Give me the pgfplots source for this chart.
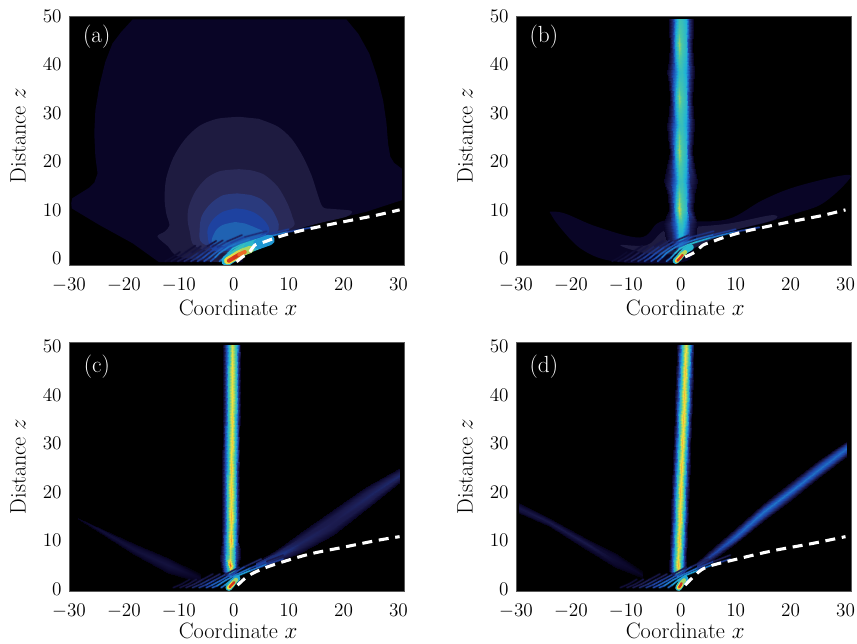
\documentclass[border=0pt]{standalone}
\usepackage{pgfplots}
\pgfplotsset{compat=1.18}
\newcommand\fs{\fontsize{15}{18}\selectfont}
\newcommand\fl{\fontsize{16.7}{20}\selectfont}
\newcommand\fp{\fontsize{17.5}{21}\selectfont}
\definecolor{ca}{RGB}{9,5,38}
\definecolor{cb}{RGB}{30,27,64}
\definecolor{cc}{RGB}{42,42,88}
\definecolor{cd}{RGB}{42,58,125}
\definecolor{ce}{RGB}{30,66,160}
\definecolor{cf}{RGB}{32,98,178}
\pgfplotsset{
 colormap={beam}{rgb255(0)=(0,0,0); rgb255(3)=(9,5,38); rgb255(10)=(28,28,80); rgb255(20)=(30,70,170); rgb255(30)=(31,122,205); rgb255(38)=(31,178,215); rgb255(50)=(79,200,160); rgb255(60)=(181,215,90); rgb255(70)=(245,224,64); rgb255(80)=(245,160,48); rgb255(90)=(232,74,32); rgb255(100)=(176,16,16)},
 panel/.style={scale only axis,width=251.25pt,height=186.75pt,anchor=south west,
  xmin=-30,xmax=31,enlargelimits=false,
  axis background/.style={fill=black},
  axis line style={black!65,line width=.6pt},
  xtick={-30,-20,-10,0,10,20,30},ytick={0,10,20,30,40,50},
  major tick length=0pt,
  point meta min=0,point meta max=1,colormap name=beam,
  tick label style={font=\fs},label style={font=\fl},
  xlabel={Coordinate $x$},ylabel={Distance $z$},
  xticklabel style={yshift=-6.5pt},
  yticklabel style={xshift=-2pt},
  xlabel style={at={(axis description cs:0.505,-0.173)},anchor=center},
  ylabel style={at={(axis description cs:-0.152,0.52)},anchor=center,rotate=0},
 },
 beam/.style={surf,shader=interp,mesh/cols=#1,point meta=explicit,forget plot},
 flat/.style={fill=#1,draw=none,forget plot},
 caust/.style={white,line width=2.3pt,dash pattern=on 7.5pt off 5pt,smooth,tension=.6,no markers,forget plot},
 arc/.style={mesh,line width=#1,line cap=round,point meta=explicit,no markers,forget plot},
}
% a fringe: same typed points, wide and dim under narrow and bright
\newcommand\fr[1]{%
 \addplot[arc=2.2pt,opacity=.2] coordinates {#1};
 \addplot[arc=1.1pt] coordinates {#1};}
\newcommand\frlow{%
 \fr{(-2.6,-.6)[.2] (-1.8,.1)[.3] (-1,1.1)[.36] (-.2,2)[.4] (1.3,2.8)[.41] (2.9,3.4)[.4] (5.3,4.2)[.33] (9.6,5.4)[.25] (14.3,6.4)[.12]}
 \fr{(-4.2,-.6)[.17] (-3.4,.2)[.27] (-2.6,1.1)[.3] (-1,2.3)[.3] (.4,3)[.28] (3,4)[.27] (6,4.9)[.22] (10,6)[.12]}
 \fr{(-5.4,-.6)[.15] (-4.5,.1)[.24] (-3.5,1)[.25] (-2,2.2)[.23] (-.5,3.2)[.2] (2,4.4)[.18] (6,5.6)[.12]}
 \fr{(-6.6,-.6)[.13] (-5.6,.1)[.21] (-4.5,1.1)[.21] (-3,2.3)[.18] (-1.2,3.5)[.14] (1.5,4.8)[.1]}
 \fr{(-7.8,-.6)[.11] (-6.7,.1)[.18] (-5.5,1.1)[.17] (-3.9,2.4)[.13] (-2,3.7)[.09]}
 \fr{(-9,-.6)[.09] (-7.8,.1)[.14] (-6.5,1.1)[.13] (-4.8,2.5)[.09] (-3.2,3.6)[.07]}
 \fr{(-10.2,-.6)[.07] (-9,.1)[.1] (-7.6,1.2)[.09] (-6,2.5)[.06]}
 \fr{(-11.4,-.6)[.05] (-10.1,.2)[.07] (-8.7,1.3)[.06] (-7,2.6)[.05]}
 \fr{(-12.5,-.6)[.04] (-11.2,.2)[.05] (-9.8,1.3)[.04]}
}
\newcommand\frhigh{%
 \fr{(-2.3,.3)[.2] (-1.6,.8)[.32] (-.5,1.8)[.38] (1,2.9)[.38] (3,3.8)[.32] (6,5.1)[.24] (9,6.2)[.1]}
 \fr{(-3.9,.3)[.17] (-3,.7)[.28] (-1.5,1.8)[.31] (.5,3)[.29] (3,4.3)[.24] (6,5.7)[.13] (9,7)[.06]}
 \fr{(-5,.3)[.15] (-4,.8)[.24] (-2.5,1.7)[.24] (-.5,3)[.21] (2,4.6)[.16] (5,6.2)[.08]}
 \fr{(-6.3,.3)[.12] (-5,.9)[.2] (-3.5,1.8)[.18] (-1.5,3)[.13] (1,4.5)[.08]}
 \fr{(-7.5,.3)[.1] (-6,1)[.15] (-4.5,1.9)[.13] (-2.5,3.1)[.08]}
 \fr{(-8.7,.3)[.08] (-7.2,1)[.11] (-5.6,2)[.09] (-3.8,3.1)[.06]}
 \fr{(-9.8,.3)[.06] (-8.3,1)[.08] (-6.8,2)[.06]}
 \fr{(-11,.3)[.05] (-9.5,1)[.06] (-8,2)[.04]}
}
\begin{document}
\begin{tikzpicture}
\path[use as bounding box] (0,0) rectangle (642.75pt,482.25pt);
%%%%%%%%%%%%%%%%%%%% (a)
\begin{axis}[panel,at={(51.75pt,283.5pt)},ymin=-1.37,ymax=50]
\addplot[flat=ca] coordinates {(-18.4,49.3)(-20.5,46.7)(-22.1,44.3)(-23.4,40.5)(-24.5,35.4)(-25.2,30.5)(-25.4,25.8)(-25.2,21)(-24.8,17.5)(-25.4,15.6)(-26.3,14.6)(-29.4,12.4)(-29.6,11.4)(-29.5,10.3)(-24.5,6.9)(-18.4,3.1)(-13.6,-.8)(1.6,-.8)(1.6,.3)(2.9,2.1)(7.1,4.5)(15,7.2)(24.1,9.6)(30.6,12)(30.6,18.5)(29.2,19.7)(28.5,21)(28.1,23.7)(27.8,28)(27.2,32.6)(26.1,37.5)(24.7,42.2)(22.7,46.3)(20.5,49.3)} -- cycle;
\addplot[flat=cb,smooth,tension=.5] coordinates {(1,29.2)(-3,28.8)(-6.3,27.3)(-9,24.4)(-11,20.8)(-12.3,16.5)(-12.6,12.5)(-12.3,9.3)(-11.7,6.8)(-12.6,5.5)(-13.9,4.5)(-12,2.5)(-9.9,.3)(-2,-.8)(1.6,.3)(7.1,4.5)(15,7.1)(20.5,8.6)(21.4,9.8)(18,10.2)(16.2,10.6)(15.2,13.5)(14.2,17)(12.6,21)(10.5,24.7)(8,27.2)(4.5,28.8)} -- cycle;
\addplot[flat=cc,smooth,tension=.5] coordinates {(1,18.4)(-2.5,18)(-5,16.5)(-7,13.8)(-8.2,10.6)(-8.4,8)(-8,5.5)(-6.9,2.4)(0,1)(6,4)(10.8,6.5)(10.7,8.5)(9.7,11.5)(8,14.8)(5.5,17.3)(3,18.2)} -- cycle;
\addplot[flat=cd,smooth,tension=.5] coordinates {(.7,13.4)(-2,13)(-4.2,11.3)(-5.8,8.8)(-6.2,6)(-5.7,3.1)(0,1.5)(5,3.5)(7.7,5.2)(8.2,7)(7,10)(5,12.2)(3,13.1)} -- cycle;
\addplot[flat=ce,smooth,tension=.5] coordinates {(.4,10.3)(-2,9.6)(-3.8,8)(-4.8,5.6)(-3.8,1.7)(1,2)(5,3.8)(6.5,5.8)(5.6,7.8)(3.8,9.4)(2,10.1)} -- cycle;
\addplot[flat=cf,smooth,tension=.5] coordinates {(.3,7.5)(-2,6.9)(-3.4,5.5)(-3.8,3)(1,2.5)(5.3,5.2)(4,6.3)(2,7.2)} -- cycle;
\frlow
\addplot[arc=8pt] coordinates {(-1.3,-.5)[.36] (-.3,.25)[.4] (.6,.95)[.44] (1.5,1.55)[.46] (2.8,2.25)[.44] (4.5,3)[.38] (6.5,3.8)[.3]};
\addplot[arc=5.5pt] coordinates {(-1.1,-.5)[.68] (-.1,.15)[.68] (.8,.8)[.66] (1.8,1.35)[.62] (3,1.85)[.56]};
\addplot[arc=3pt] coordinates {(-.9,-.5)[.9] (.2,.25)[.95] (1,.8)[.92] (2,1.3)[.8]};
\addplot[caust] coordinates {(.5,-.7)(1.6,.3)(2.9,1.3)(3.8,2.7)(5.6,3.4)(7.8,4.3)(11.1,5.4)(14.2,6.2)(18,7.1)(22.9,8.2)(26,8.9)(30.2,10)};
\node[white,font=\fp] at (rel axis cs:.083,.915) {(a)};
\end{axis}
%%%%%%%%%%%%%%%%%%%% (b)
\begin{axis}[panel,at={(387pt,283.5pt)},ymin=-1.37,ymax=50]
\addplot[flat=ca,smooth,tension=.6] coordinates {(-23.9,9.6)(-21.2,9.3)(-15.2,6.5)(-7.4,4.3)(-4.3,7.2)(-1.9,7.9)(2.3,7.6)(8.9,8.2)(14.9,12)(21,14.8)(30,17.2)(30.3,15.8)(25.8,11.3)(21,9.3)(15,7.2)(8.9,5.5)(2.9,2.4)(.5,-.7)(-11.6,-.7)(-18.2,2)(-23,7.9)} -- cycle;
\addplot[flat=cb,smooth,tension=.6] coordinates {(2.3,6.5)(8.9,7.2)(16.5,8.9)(16.8,7.9)(8.9,5.5)(2.9,2.4)(0,1)(-6,1)(-11,2.7)(-6.2,2.7)(-3.7,5.2)(-1.9,6.5)} -- cycle;
\addplot[beam=8] table[meta=m,row sep=\\] {x y m\\
-1.2 1.8 .03\\ -.9 1.8 .05\\ -.6 1.8 .1\\ -.3 1.8 .18\\ .1 1.8 .15\\ .4 1.8 .1\\ .7 1.8 .05\\ 1 1.8 .03\\
-2.6 4 .03\\ -1.7 4 .09\\ -1.1 4 .18\\ -.4 4 .36\\ .3 4 .36\\ .9 4 .24\\ 1.6 4 .1\\ 2.6 4 .03\\
-3.2 7 .03\\ -1.9 7 .11\\ -1.1 7 .25\\ -.4 7 .44\\ .3 7 .44\\ .9 7 .33\\ 1.7 7 .12\\ 3 7 .03\\
-2.2 10 .03\\ -1.5 10 .18\\ -1 10 .35\\ -.4 10 .62\\ .3 10 .5\\ .9 10 .42\\ 1.4 10 .2\\ 2.2 10 .03\\
-2.4 13 .03\\ -1.6 13 .16\\ -1 13 .32\\ -.4 13 .54\\ .3 13 .47\\ .9 13 .39\\ 1.5 13 .17\\ 2.4 13 .03\\
-3 16 .03\\ -1.9 16 .11\\ -1.1 16 .26\\ -.4 16 .44\\ .3 16 .44\\ .9 16 .35\\ 1.7 16 .12\\ 3 16 .03\\
-2.5 19 .03\\ -1.6 19 .15\\ -1 19 .31\\ -.4 19 .5\\ .3 19 .46\\ .9 19 .38\\ 1.5 19 .16\\ 2.5 19 .03\\
-2 22 .03\\ -1.5 22 .18\\ -1 22 .35\\ -.4 22 .58\\ .3 22 .48\\ .9 22 .41\\ 1.4 22 .2\\ 2.1 22 .03\\
-2.3 25 .03\\ -1.6 25 .16\\ -1 25 .32\\ -.4 25 .53\\ .3 25 .46\\ .9 25 .39\\ 1.5 25 .17\\ 2.3 25 .03\\
-2.5 27.5 .03\\ -1.7 27.5 .13\\ -1.1 27.5 .27\\ -.4 27.5 .44\\ .3 27.5 .44\\ .9 27.5 .36\\ 1.6 27.5 .14\\ 2.5 27.5 .03\\
-2.2 30 .03\\ -1.5 30 .16\\ -1 30 .31\\ -.4 30 .48\\ .3 30 .45\\ .9 30 .39\\ 1.5 30 .17\\ 2.2 30 .03\\
-2 33 .03\\ -1.5 33 .18\\ -1 33 .34\\ -.4 33 .56\\ .3 33 .48\\ .9 33 .41\\ 1.4 33 .2\\ 2 33 .03\\
-2.2 36 .03\\ -1.6 36 .16\\ -1 36 .31\\ -.4 36 .48\\ .3 36 .45\\ .9 36 .39\\ 1.5 36 .17\\ 2.2 36 .03\\
-2.5 38.5 .03\\ -1.7 38.5 .13\\ -1.1 38.5 .27\\ -.4 38.5 .43\\ .3 38.5 .43\\ .9 38.5 .36\\ 1.6 38.5 .14\\ 2.5 38.5 .03\\
-2.2 41 .03\\ -1.5 41 .16\\ -1 41 .31\\ -.4 41 .49\\ .3 41 .45\\ .9 41 .39\\ 1.5 41 .17\\ 2.2 41 .03\\
-2 44 .03\\ -1.5 44 .18\\ -1 44 .35\\ -.4 44 .57\\ .3 44 .48\\ .9 44 .41\\ 1.4 44 .2\\ 2.1 44 .03\\
-2.2 47 .03\\ -1.5 47 .17\\ -1 47 .33\\ -.4 47 .5\\ .3 47 .46\\ .9 47 .4\\ 1.5 47 .17\\ 2.2 47 .03\\
-2.1 49.3 .03\\ -1.5 49.3 .16\\ -1 49.3 .3\\ -.4 49.3 .46\\ .3 49.3 .44\\ .9 49.3 .38\\ 1.5 49.3 .16\\ 2.2 49.3 .03\\
};
\frlow
\addplot[arc=4.8pt] coordinates {(-.9,-.5)[.38] (-.3,.15)[.42] (.2,.9)[.46] (.8,1.6)[.44] (1.8,2.3)[.36]};
\addplot[arc=3pt] coordinates {(-.7,-.5)[.7] (-.2,.15)[.72] (.3,.8)[.66] (.8,1.3)[.55]};
\addplot[arc=1.7pt] coordinates {(-.6,-.5)[.92] (-.1,.1)[.97] (.35,.7)[.9]};
\addplot[caust] coordinates {(.8,.3)(2.6,1.3)(4,2.7)(5.9,3.5)(7.8,4.3)(11.1,5.4)(14.2,6.2)(18,7.1)(22.9,8.2)(26,8.9)(30,10)};
\node[white,font=\fp] at (rel axis cs:.083,.915) {(b)};
\end{axis}
%%%%%%%%%%%%%%%%%%%% (c)
\begin{axis}[panel,at={(51.75pt,39pt)},ymin=-.4,ymax=50.9,
 xlabel style={at={(axis description cs:0.505,-0.16)}},ylabel style={at={(axis description cs:-0.152,0.5)}}]
\addplot[beam=5] table[meta=m,row sep=\\] {x y m\\
4 4.2 .03\\ 4 4.6 .14\\ 4 4.9 .2\\ 4 5.3 .14\\ 4 5.6 .03\\
8 5.7 .03\\ 8 6.3 .12\\ 8 6.9 .17\\ 8 7.6 .12\\ 8 8.2 .03\\
12 7.4 .03\\ 12 8.4 .09\\ 12 9.5 .12\\ 12 10.6 .09\\ 12 11.6 .03\\
18 11.2 .03\\ 18 12.5 .09\\ 18 13.8 .1\\ 18 15 .09\\ 18 16.3 .03\\
24 16.5 .03\\ 24 17.6 .09\\ 24 18.8 .12\\ 24 19.9 .09\\ 24 21 .03\\
30.2 22 .03\\ 30.2 22.8 .1\\ 30.2 23.5 .13\\ 30.2 24.2 .1\\ 30.2 24.9 .03\\
};
\addplot[beam=5] table[meta=m,row sep=\\] {x y m\\
-28.3 14.5 .02\\ -28.3 14.55 .03\\ -28.3 14.6 .03\\ -28.3 14.65 .03\\ -28.3 14.7 .02\\
-24 11.4 .02\\ -24 11.7 .05\\ -24 11.9 .06\\ -24 12.1 .05\\ -24 12.4 .02\\
-18 7 .02\\ -18 7.6 .05\\ -18 8.1 .065\\ -18 8.7 .05\\ -18 9.2 .02\\
-12 3.4 .02\\ -12 4.2 .05\\ -12 4.9 .07\\ -12 5.7 .05\\ -12 6.4 .02\\
-6 1.2 .01\\ -6 1.7 .02\\ -6 2.2 .03\\ -6 2.7 .02\\ -6 3.2 .01\\
};
\addplot[beam=7] table[meta=m,row sep=\\] {x y m\\
-1.5 2.6 .03\\ -1.2 2.6 .06\\ -1 2.6 .12\\ -.7 2.6 .3\\ -.3 2.6 .12\\ 0 2.6 .06\\ .3 2.6 .03\\
-2.15 3.8 .03\\ -1.7 3.8 .18\\ -1.25 3.8 .34\\ -.6 3.8 .6\\ .05 3.8 .34\\ .45 3.8 .16\\ .8 3.8 .03\\
-2.25 5 .03\\ -1.75 5 .2\\ -1.3 5 .44\\ -.6 5 .88\\ .05 5 .44\\ .5 5 .18\\ .8 5 .03\\
-2.5 6.5 .03\\ -1.85 6.5 .18\\ -1.35 6.5 .4\\ -.6 6.5 .62\\ .05 6.5 .42\\ .5 6.5 .18\\ 1.1 6.5 .03\\
-2.4 8 .03\\ -1.75 8 .19\\ -1.3 8 .41\\ -.6 8 .62\\ .05 8 .42\\ .5 8 .18\\ 1.15 8 .03\\
-2.2 10 .03\\ -1.7 10 .2\\ -1.25 10 .42\\ -.55 10 .8\\ .1 10 .44\\ .55 10 .18\\ .85 10 .03\\
-2.18 12.5 .03\\ -1.68 12.5 .2\\ -1.23 12.5 .42\\ -.53 12.5 .7\\ .12 12.5 .44\\ .57 12.5 .18\\ .87 12.5 .03\\
-2.16 15 .03\\ -1.66 15 .2\\ -1.21 15 .42\\ -.51 15 .78\\ .14 15 .44\\ .59 15 .18\\ .89 15 .03\\
-2.14 17.5 .03\\ -1.64 17.5 .2\\ -1.19 17.5 .42\\ -.49 17.5 .7\\ .16 17.5 .44\\ .61 17.5 .18\\ .91 17.5 .03\\
-2.12 20 .03\\ -1.62 20 .2\\ -1.17 20 .42\\ -.47 20 .76\\ .18 20 .44\\ .63 20 .18\\ .93 20 .03\\
-2.1 22.5 .03\\ -1.6 22.5 .2\\ -1.15 22.5 .42\\ -.45 22.5 .7\\ .2 22.5 .44\\ .65 22.5 .18\\ .95 22.5 .03\\
-2.08 25 .03\\ -1.58 25 .2\\ -1.13 25 .42\\ -.43 25 .76\\ .22 25 .44\\ .67 25 .18\\ .97 25 .03\\
-2.06 27.5 .03\\ -1.56 27.5 .2\\ -1.11 27.5 .42\\ -.41 27.5 .69\\ .24 27.5 .44\\ .69 27.5 .18\\ .99 27.5 .03\\
-2.04 30 .03\\ -1.54 30 .2\\ -1.09 30 .42\\ -.39 30 .74\\ .26 30 .44\\ .71 30 .18\\ 1.01 30 .03\\
-2.02 32.5 .03\\ -1.52 32.5 .2\\ -1.07 32.5 .42\\ -.37 32.5 .69\\ .28 32.5 .44\\ .73 32.5 .18\\ 1.03 32.5 .03\\
-2 35 .03\\ -1.5 35 .2\\ -1.05 35 .42\\ -.35 35 .74\\ .3 35 .44\\ .75 35 .18\\ 1.05 35 .03\\
-1.98 37.5 .03\\ -1.48 37.5 .2\\ -1.03 37.5 .42\\ -.33 37.5 .68\\ .32 37.5 .44\\ .77 37.5 .18\\ 1.07 37.5 .03\\
-1.96 40 .03\\ -1.46 40 .2\\ -1.01 40 .42\\ -.31 40 .72\\ .34 40 .44\\ .79 40 .18\\ 1.09 40 .03\\
-1.94 42.5 .03\\ -1.44 42.5 .2\\ -.99 42.5 .42\\ -.29 42.5 .68\\ .36 42.5 .44\\ .81 42.5 .18\\ 1.11 42.5 .03\\
-1.92 45 .03\\ -1.42 45 .2\\ -.97 45 .42\\ -.27 45 .72\\ .38 45 .44\\ .83 45 .18\\ 1.13 45 .03\\
-1.9 47.5 .03\\ -1.4 47.5 .2\\ -.95 47.5 .42\\ -.25 47.5 .68\\ .4 47.5 .44\\ .85 47.5 .18\\ 1.15 47.5 .03\\
-1.88 50.2 .03\\ -1.38 50.2 .2\\ -.93 50.2 .42\\ -.23 50.2 .66\\ .42 50.2 .44\\ .87 50.2 .18\\ 1.17 50.2 .03\\
};
\frhigh
\addplot[arc=5pt] coordinates {(-.9,.3)[.38] (-.45,.9)[.45] (0,1.6)[.42] (.6,2.2)[.3]};
\addplot[arc=3.2pt] coordinates {(-.85,.3)[.65] (-.4,.85)[.72] (.05,1.5)[.66] (.4,1.9)[.5]};
\addplot[arc=1.7pt] coordinates {(-.75,.4)[.9] (-.35,.9)[.98] (.1,1.4)[.9]};
\addplot[caust] coordinates {(.7,.8)(2.5,2.6)(4.7,3.9)(7.8,5.2)(13.8,7.2)(19.9,8.6)(26,10)(30.2,10.8)};
\node[white,font=\fp] at (rel axis cs:.083,.9) {(c)};
\end{axis}
%%%%%%%%%%%%%%%%%%%% (d)
\begin{axis}[panel,at={(387pt,39pt)},ymin=-.4,ymax=50.9,
 xlabel style={at={(axis description cs:0.505,-0.16)}},ylabel style={at={(axis description cs:-0.152,0.5)}}]
\addplot[beam=5] table[meta=m,row sep=\\] {x y m\\
3 4 .03\\ 3 4.4 .1\\ 3 4.8 .15\\ 3 5.2 .1\\ 3 5.6 .03\\
6 6.1 .03\\ 6 6.75 .12\\ 6 7.4 .2\\ 6 8.05 .12\\ 6 8.7 .03\\
10 9.4 .03\\ 10 10.2 .16\\ 10 11 .26\\ 10 11.8 .16\\ 10 12.6 .03\\
15 14 .03\\ 15 14.9 .17\\ 15 15.8 .29\\ 15 16.7 .17\\ 15 17.6 .03\\
20 18.4 .03\\ 20 19.3 .17\\ 20 20.2 .29\\ 20 21.1 .17\\ 20 22 .03\\
25 22.8 .03\\ 25 23.7 .17\\ 25 24.6 .28\\ 25 25.5 .17\\ 25 26.4 .03\\
30.2 27.4 .03\\ 30.2 28.2 .17\\ 30.2 29 .27\\ 30.2 29.8 .17\\ 30.2 30.6 .03\\
};
\addplot[beam=5] table[meta=m,row sep=\\] {x y m\\
-29.5 15.6 .02\\ -29.5 16.1 .06\\ -29.5 16.6 .08\\ -29.5 17.1 .06\\ -29.5 17.7 .02\\
-24 13 .02\\ -24 13.5 .06\\ -24 13.9 .09\\ -24 14.3 .06\\ -24 14.6 .02\\
-17 8 .02\\ -17 8.6 .05\\ -17 9.2 .09\\ -17 9.8 .05\\ -17 10.3 .02\\
-12 4.5 .02\\ -12 5.2 .04\\ -12 6 .05\\ -12 6.8 .04\\ -12 7.5 .02\\
-7 2.2 .01\\ -7 2.6 .02\\ -7 3 .03\\ -7 3.4 .02\\ -7 3.8 .01\\
};
\addplot[beam=7] table[meta=m,row sep=\\] {x y m\\
-1.35 2.6 .03\\ -1.15 2.6 .06\\ -.95 2.6 .12\\ -.65 2.6 .3\\ -.3 2.6 .12\\ -.05 2.6 .06\\ .2 2.6 .03\\
-2.13 3.8 .03\\ -1.68 3.8 .2\\ -1.23 3.8 .4\\ -.58 3.8 .68\\ .07 3.8 .4\\ .52 3.8 .18\\ .92 3.8 .03\\
-2.09 5 .03\\ -1.64 5 .2\\ -1.19 5 .42\\ -.54 5 .78\\ .11 5 .44\\ .56 5 .18\\ .96 5 .03\\
-2.01 7.5 .03\\ -1.56 7.5 .2\\ -1.11 7.5 .42\\ -.46 7.5 .66\\ .19 7.5 .44\\ .64 7.5 .18\\ 1.04 7.5 .03\\
-1.93 10 .03\\ -1.48 10 .2\\ -1.03 10 .42\\ -.38 10 .76\\ .27 10 .44\\ .72 10 .18\\ 1.12 10 .03\\
-1.85 12.5 .03\\ -1.4 12.5 .2\\ -.95 12.5 .42\\ -.3 12.5 .7\\ .35 12.5 .44\\ .8 12.5 .18\\ 1.2 12.5 .03\\
-1.77 15 .03\\ -1.32 15 .2\\ -.87 15 .42\\ -.22 15 .76\\ .43 15 .44\\ .88 15 .18\\ 1.28 15 .03\\
-1.69 17.5 .03\\ -1.24 17.5 .2\\ -.79 17.5 .42\\ -.14 17.5 .7\\ .51 17.5 .44\\ .96 17.5 .18\\ 1.36 17.5 .03\\
-1.61 20 .03\\ -1.16 20 .2\\ -.71 20 .42\\ -.06 20 .77\\ .59 20 .44\\ 1.04 20 .18\\ 1.44 20 .03\\
-1.53 22.5 .03\\ -1.08 22.5 .2\\ -.63 22.5 .42\\ .02 22.5 .7\\ .67 22.5 .44\\ 1.12 22.5 .18\\ 1.52 22.5 .03\\
-1.45 25 .03\\ -1 25 .2\\ -.55 25 .42\\ .1 25 .77\\ .75 25 .44\\ 1.2 25 .18\\ 1.6 25 .03\\
-1.37 27.5 .03\\ -.92 27.5 .2\\ -.47 27.5 .42\\ .18 27.5 .7\\ .83 27.5 .44\\ 1.28 27.5 .18\\ 1.68 27.5 .03\\
-1.29 30 .03\\ -.84 30 .2\\ -.39 30 .42\\ .26 30 .77\\ .91 30 .44\\ 1.36 30 .18\\ 1.76 30 .03\\
-1.21 32.5 .03\\ -.76 32.5 .2\\ -.31 32.5 .42\\ .34 32.5 .7\\ .99 32.5 .44\\ 1.44 32.5 .18\\ 1.84 32.5 .03\\
-1.13 35 .03\\ -.68 35 .2\\ -.23 35 .42\\ .42 35 .77\\ 1.07 35 .44\\ 1.52 35 .18\\ 1.92 35 .03\\
-1.05 37.5 .03\\ -.6 37.5 .2\\ -.15 37.5 .42\\ .5 37.5 .7\\ 1.15 37.5 .44\\ 1.6 37.5 .18\\ 2 37.5 .03\\
-.97 40 .03\\ -.52 40 .2\\ -.07 40 .42\\ .58 40 .76\\ 1.23 40 .44\\ 1.68 40 .18\\ 2.08 40 .03\\
-.89 42.5 .03\\ -.44 42.5 .2\\ .01 42.5 .42\\ .66 42.5 .7\\ 1.31 42.5 .44\\ 1.76 42.5 .18\\ 2.16 42.5 .03\\
-.81 45 .03\\ -.36 45 .2\\ .09 45 .42\\ .74 45 .76\\ 1.39 45 .44\\ 1.84 45 .18\\ 2.24 45 .03\\
-.73 47.5 .03\\ -.28 47.5 .2\\ .17 47.5 .42\\ .82 47.5 .7\\ 1.47 47.5 .44\\ 1.92 47.5 .18\\ 2.32 47.5 .03\\
-.64 50.2 .03\\ -.19 50.2 .2\\ .26 50.2 .42\\ .91 50.2 .68\\ 1.56 50.2 .44\\ 2.01 50.2 .18\\ 2.41 50.2 .03\\
};
\frhigh
\addplot[arc=5pt] coordinates {(-.4,.3)[.38] (-.1,.8)[.45] (.2,1.4)[.42] (.8,2.1)[.3]};
\addplot[arc=3.2pt] coordinates {(-.35,.3)[.65] (-.05,.7)[.72] (.2,1.3)[.66] (.6,1.8)[.5]};
\addplot[arc=1.7pt] coordinates {(-.3,.35)[.9] (-.02,.8)[.98] (.15,1.2)[.9]};
\addplot[caust] coordinates {(.8,.8)(2.3,2.5)(4.7,4.5)(10.7,6.3)(16.8,7.9)(24,9.4)(30,10.8)};
\node[white,font=\fp] at (rel axis cs:.083,.9) {(d)};
\end{axis}
\end{tikzpicture}
\end{document}
